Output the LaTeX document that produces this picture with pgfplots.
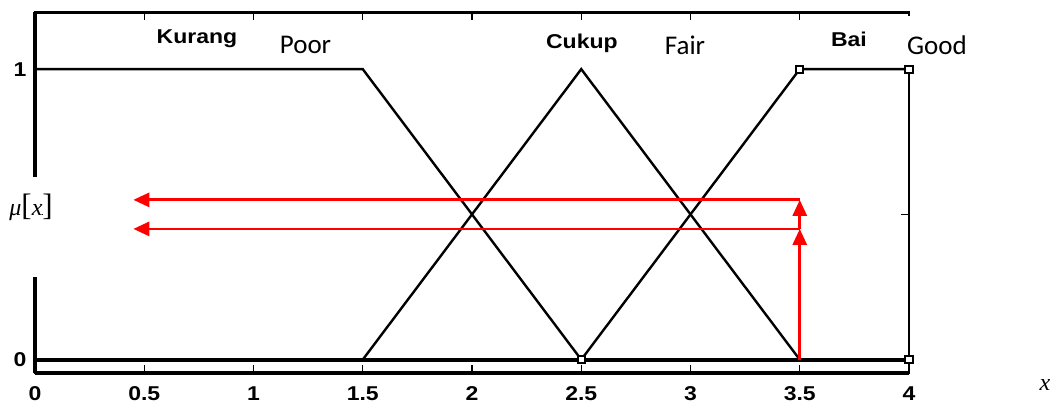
\documentclass[border=0pt]{standalone}
\usepackage{fontspec}
\usepackage{pgfplots}
\pgfplotsset{compat=1.18}
\usetikzlibrary{arrows.meta}
\newfontfamily\mfont[FakeStretch=1.15]{Liberation Sans}
\newfontfamily\calfont{Carlito}
\newfontfamily\serfont{Liberation Serif}

\begin{document}
\begin{tikzpicture}
\begin{axis}[
  scale only axis, width=874pt, height=360.5pt,
  xmin=0, xmax=4, ymin=-0.046, ymax=1.195,
  xtick={0,0.5,...,4}, xticklabels={0,0.5,1,1.5,2,2.5,3,3.5,4},
  ytick={0,0.5,1}, yticklabels={0,,1},
  tick align=inside, major tick length=8pt,
  tick style={black, line width=1.4pt},
  axis line style={line width=2.2pt},
  ticklabel style={font=\mfont\bfseries\fontsize{20}{21}\selectfont},
  xticklabel style={yshift=-10pt},
  yticklabel style={xshift=-5pt},
  clip=false,
]
% heavier left and bottom frame
\draw[line width=4.5pt] (rel axis cs:0,0) -- (rel axis cs:0,1);
\draw[line width=3.2pt] (rel axis cs:0,0) -- (rel axis cs:1,0);

% membership functions
% Kurang (Poor)
\addplot[black, line width=2.4pt] coordinates {(0,1) (1.5,1) (2.5,0) (4,0)};
% Cukup (Fair)
\addplot[black, line width=2.4pt] coordinates {(0,0) (1.5,0) (2.5,1) (3.5,0) (4,0)};
% Baik (Good)
\addplot[black, line width=2.4pt] coordinates {(0,0) (2.5,0) (3.5,1) (4,1)};
% zero level
\addplot[black, line width=4.2pt] coordinates {(0,0) (4,0)};
% breakpoint markers
\addplot[black, only marks, mark=square*, mark size=3.6pt,
  mark options={line width=2pt, fill=white}]
  coordinates {(2.5,0) (3.5,1) (4,1) (4,0)};

% degree of membership read at x = 3.5
\addplot[red, line width=2.8pt, -{Triangle[length=16pt,width=14pt]}]
  coordinates {(3.5,0) (3.5,0.45)};
\addplot[red, line width=2.8pt, -{Triangle[length=16pt,width=14pt]}]
  coordinates {(3.5,0.45) (3.5,0.55)};
\addplot[red, line width=2.8pt, -{Triangle[length=16pt,width=14pt]}]
  coordinates {(3.5,0.55) (0.45,0.55)};
\addplot[red, line width=2.8pt, -{Triangle[length=16pt,width=14pt]}]
  coordinates {(3.5,0.45) (0.45,0.45)};

% openings in the frame behind the labels
\fill[white] (axis cs:-0.08,0.284) rectangle (axis cs:0.03,0.628);
\fill[white] (axis cs:3.97,1.012) rectangle (axis cs:4.03,1.182);

% set names
\node[font=\mfont\bfseries\fontsize{20}{20}\selectfont, anchor=base] at (axis cs:0.741,1.0895) {Kurang};
\node[font=\mfont\bfseries\fontsize{20}{20}\selectfont, anchor=base] at (axis cs:2.503,1.072) {Cukup};
\node[font=\mfont\bfseries\fontsize{20}{20}\selectfont, anchor=base] at (axis cs:3.725,1.079) {Bai};
\node[font=\calfont\fontsize{27}{27}\selectfont, anchor=base] at (axis cs:1.238,1.055) {Poor};
\node[font=\calfont\fontsize{27}{27}\selectfont, anchor=base] at (axis cs:2.975,1.052) {Fair};
\node[font=\calfont\fontsize{27}{27}\selectfont, anchor=base] at (axis cs:4.128,1.052) {Good};

% axis names
\node[font=\serfont\fontsize{24}{24}\selectfont] at (axis cs:-0.018,0.525)
  {\textit{μ}{\fontsize{31}{31}\selectfont[}\textit{x}{\fontsize{31}{31}\selectfont]}};
\node[font=\serfont\itshape\fontsize{24}{24}\selectfont] at (axis cs:4.622,-0.088) {x};
\end{axis}
\pgfresetboundingbox
\path[use as bounding box] (-35pt,-37pt) rectangle (1021pt,373pt);
\end{tikzpicture}
\end{document}
